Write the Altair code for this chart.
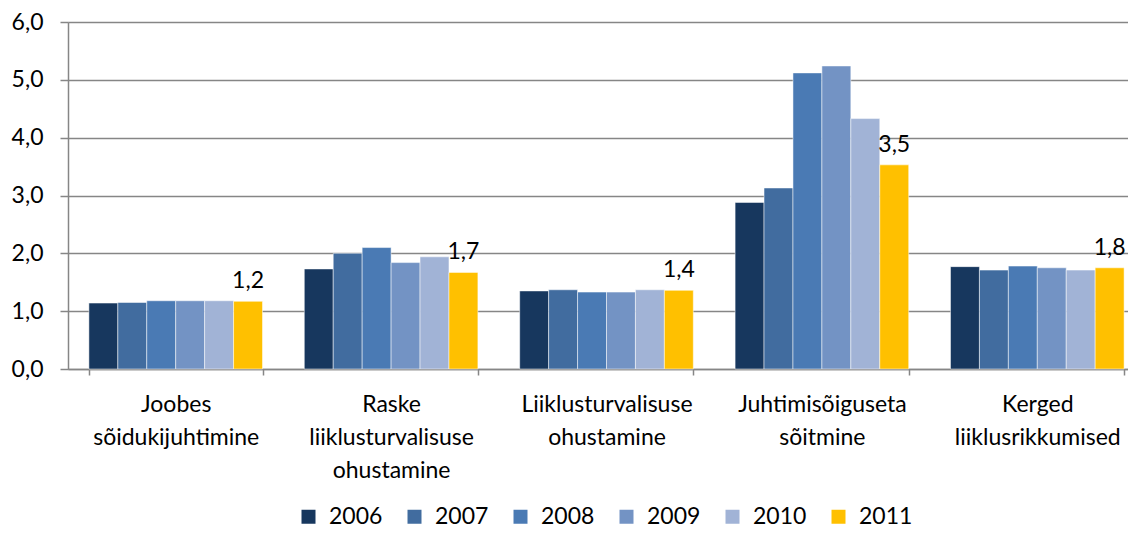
import altair as alt
import pandas as pd

categories = [
    "Joobes|sõidukijuhtimine",
    "Raske|liiklusturvalisuse|ohustamine",
    "Liiklusturvalisuse|ohustamine",
    "Juhtimisõiguseta|sõitmine",
    "Kerged|liiklusrikkumised",
]
years = ["2006", "2007", "2008", "2009", "2010", "2011"]
colors = ["#17375E", "#416C9F", "#4A7AB4", "#7393C4", "#A1B3D6", "#FFC000"]

v2006 = [1.14, 1.73, 1.35, 2.88, 1.77]
v2007 = [1.15, 2.00, 1.37, 3.13, 1.71]
v2008 = [1.18, 2.10, 1.33, 5.12, 1.78]
v2009 = [1.18, 1.84, 1.33, 5.24, 1.75]
v2010 = [1.18, 1.94, 1.37, 4.33, 1.71]
v2011 = [1.17, 1.67, 1.36, 3.53, 1.75]

series = [v2006, v2007, v2008, v2009, v2010, v2011]
rows = []
for y, vals in zip(years, series):
    for c, v in zip(categories, vals):
        rows.append({"cat": c, "year": y, "value": v})
df = pd.DataFrame(rows)

FONT = "Lato"
FS = 23
GRAY = "#868686"

x = alt.X("cat:N", sort=categories, title=None,
          scale=alt.Scale(paddingInner=0.194, paddingOuter=0.097, range=[0, 1077]),
          axis=alt.Axis(labelExpr="split(datum.label, '|')", labelAngle=0,
                        labelFontSize=FS, labelFont=FONT, labelColor="#000000",
                        labelLineHeight=33, labelPadding=18, labelBaseline="top",
                        labelOverlap=False, labelBound=False,
                        tickBand="extent", tickSize=6, tickColor=GRAY, tickWidth=1.5,
                        domainColor=GRAY, domainWidth=1.5, grid=False))
xo = alt.XOffset("year:N", sort=years,
                 scale=alt.Scale(domain=years, paddingInner=0, paddingOuter=0))

bars = alt.Chart(df).mark_bar(stroke="white", strokeWidth=0.5).encode(
    x=x,
    xOffset=xo,
    y=alt.Y("value:Q", title=None,
            scale=alt.Scale(domain=[0, 6], nice=False),
            axis=alt.Axis(values=[0, 1, 2, 3, 4, 5, 6],
                          labelExpr="replace(format(datum.value, '.1f'), '.', ',')",
                          labelFontSize=FS, labelFont=FONT, labelColor="#000000",
                          labelPadding=17, tickSize=8, tickColor=GRAY, tickWidth=1.5,
                          domainColor=GRAY, domainWidth=1.5,
                          gridColor=GRAY, gridWidth=1.3)),
    color=alt.Color("year:N", sort=years,
                    scale=alt.Scale(domain=years, range=colors),
                    legend=alt.Legend(title=None, orient="none", direction="horizontal",
                                      legendX=229, legendY=483, padding=0,
                                      symbolType="square", symbolSize=196,
                                      symbolStrokeWidth=0, labelFontSize=FS,
                                      labelFont=FONT, labelColor="#000000",
                                      columnPadding=20, labelOffset=9)),
)

labels = alt.Chart(df).transform_filter(alt.datum.year == "2011").transform_calculate(
    lab="replace(format(datum.value, '.1f'), '.', ',')"
).mark_text(baseline="alphabetic", dy=-13, fontSize=FS, font=FONT, color="#000000").encode(
    x=x,
    xOffset=xo,
    y=alt.Y("value:Q"),
    text="lab:N",
)

chart = alt.layer(bars, labels).properties(
    width=1060, height=347,
    autosize=alt.AutoSizeParams(type="none"),
    padding={"left": 60, "top": 14, "right": 0, "bottom": 160},
).configure_view(stroke=None).configure(font=FONT)

chart.save("out.html", embed_options={"renderer": "svg", "actions": False})
